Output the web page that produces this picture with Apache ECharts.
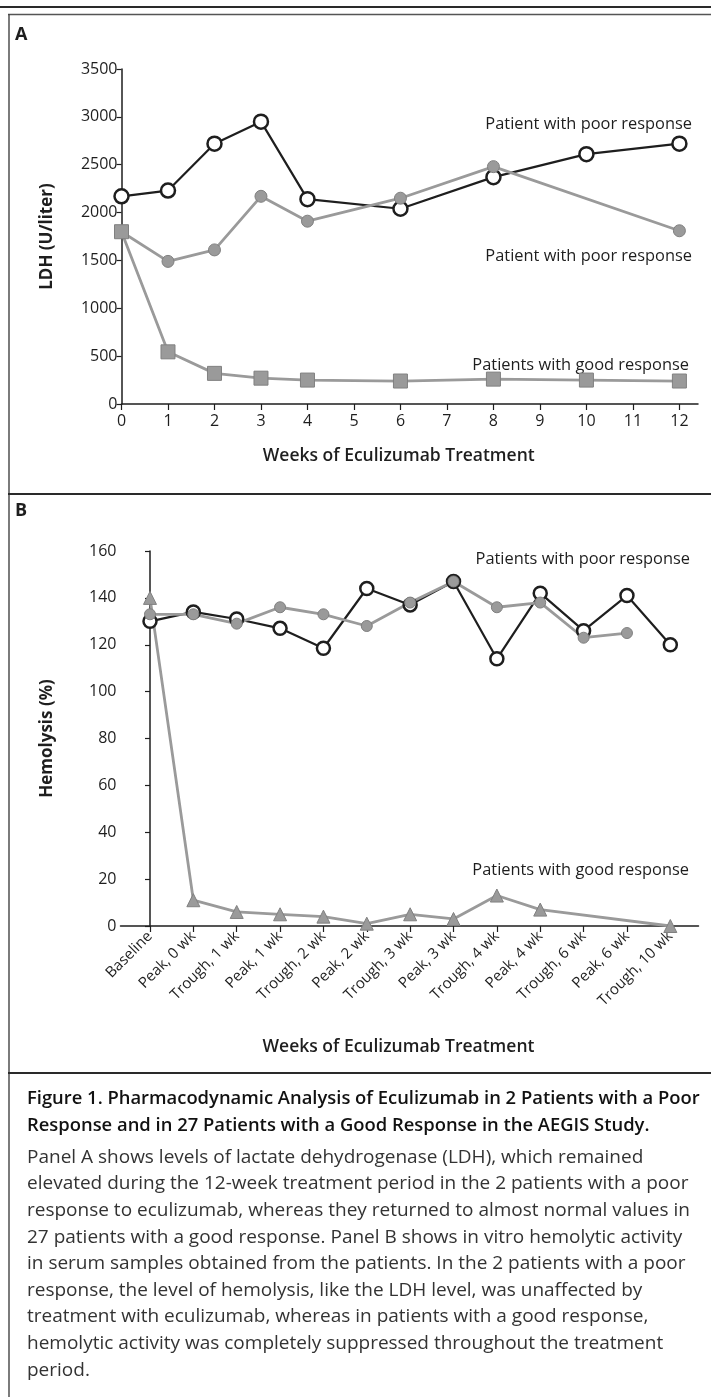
<!DOCTYPE html>
<html>
<head>
<meta charset="utf-8">
<script src="https://cdn.jsdelivr.net/npm/echarts@6/dist/echarts.min.js"></script>
<style>
  html, body { margin: 0; padding: 0; background: #fff; }
  #main { width: 711px; height: 1397px; }
</style>
</head>
<body>
<div id="main"></div>
<script>
// Panel A: LDH over weeks of treatment
const weekTicks = [0, 1, 2, 3, 4, 5, 6, 7, 8, 9, 10, 11, 12]
const weeksOpen = [0, 1, 2, 3, 4, 6, 8, 10, 12]
const ldhPoorOpen = [2170, 2230, 2720, 2950, 2140, 2040, 2370, 2610, 2720]
const weeksFilled = [0, 1, 2, 3, 4, 6, 8, 12]
const ldhPoorFilled = [1800, 1490, 1610, 2170, 1910, 2150, 2480, 1810]
const weeksGood = [0, 1, 2, 3, 4, 6, 8, 10, 12]
const ldhGood = [1800, 545, 320, 270, 250, 240, 260, 250, 240]

// Panel B: hemolysis at sampling points
const timepoints = ['Baseline', 'Peak, 0 wk', 'Trough, 1 wk', 'Peak, 1 wk', 'Trough, 2 wk', 'Peak, 2 wk',
  'Trough, 3 wk', 'Peak, 3 wk', 'Trough, 4 wk', 'Peak, 4 wk', 'Trough, 6 wk', 'Peak, 6 wk', 'Trough, 10 wk']
const hemoPoorOpen = [130, 134, 131, 127, 118.5, 144, 137, 147, 114, 142, 126, 141, 120]
const hemoPoorFilled = [133, 133, 129, 136, 133, 128, 138, 147, 136, 138, 123, 125, null]
const hemoGood = [140, 11, 6, 5, 4, 1, 5, 3, 13, 7, null, null, 0]

const FONT = '"Open Sans", "Noto Sans", sans-serif'
const NUM_FONT = '"Liberation Sans Narrow", "Open Sans", sans-serif'
const INK = '#1e1e1e'
const GREY = '#9a9a9a'

const pair = (xs, ys) => xs.map((x, i) => [x, ys[i]])
const idx = timepoints.map((_, i) => i)

const axisLine = { show: true, lineStyle: { color: INK, width: 1.5 } }
const axisTick = (len) => ({ show: true, length: len, lineStyle: { color: INK, width: 1.2 } })
const numLabel = { color: INK, fontFamily: NUM_FONT, fontSize: 16, formatter: (v) => String(v) }

const openCircle = (data, xi, size) => ({
  type: 'line', xAxisIndex: xi, yAxisIndex: xi, data,
  symbol: 'circle', symbolSize: size, connectNulls: true,
  lineStyle: { color: INK, width: 2.2 },
  itemStyle: { color: '#fff', borderColor: INK, borderWidth: 2.5 }
})
const greySeries = (data, xi, symbol, size) => ({
  type: 'line', xAxisIndex: xi, yAxisIndex: xi, data,
  symbol, symbolSize: size, connectNulls: true,
  lineStyle: { color: GREY, width: 2.8 },
  itemStyle: { color: GREY, borderColor: '#808080', borderWidth: 1 }
})

const label = (text, right, cy) => ({
  type: 'text', right: 711 - right, top: cy - 11,
  style: { text, fill: INK, font: '16.4px ' + FONT, textVerticalAlign: 'top' }
})
const hline = (x1, y, w, color) => ({
  type: 'line', shape: { x1, y1: y, x2: 711, y2: y }, style: { stroke: color, lineWidth: w }
})

const caption1 = 'Figure 1. Pharmacodynamic Analysis of Eculizumab in 2 Patients with a Poor\n' +
  'Response and in 27 Patients with a Good Response in the AEGIS Study.'
const caption2 = [
  'Panel A shows levels of lactate dehydrogenase (LDH), which remained',
  'elevated during the 12-week treatment period in the 2 patients with a poor',
  'response to eculizumab, whereas they returned to almost normal values in',
  '27 patients with a good response. Panel B shows in vitro hemolytic activity',
  'in serum samples obtained from the patients. In the 2 patients with a poor',
  'response, the level of hemolysis, like the LDH level, was unaffected by',
  'treatment with eculizumab, whereas in patients with a good response,',
  'hemolytic activity was completely suppressed throughout the treatment',
  'period.'
].join('\n')

const axisName = { color: INK, fontFamily: FONT, fontSize: 17.5, fontWeight: 600 }

const chart = echarts.init(document.getElementById('main'))

chart.setOption({
  animation: false,
  backgroundColor: '#fff',
  grid: [
    { left: 121.5, top: 69, width: 576.5, height: 335 },
    { left: 120.5, top: 551, width: 578, height: 375 }
  ],
  xAxis: [
    {
      type: 'value', gridIndex: 0, min: 0, max: 12.4,
      axisLine, axisTick: { ...axisTick(6), customValues: weekTicks },
      axisLabel: { ...numLabel, margin: 9, customValues: weekTicks },
      splitLine: { show: false },
      name: 'Weeks of Eculizumab Treatment', nameLocation: 'middle', nameGap: 43,
      nameTextStyle: { ...axisName, padding: [0, 22, 0, 0] }
    },
    {
      type: 'value', gridIndex: 1, min: -0.68, max: 12.65,
      axisLine, axisTick: { ...axisTick(6), customValues: idx },
      axisLabel: {
        color: INK, fontFamily: FONT, fontSize: 15, rotate: 45, margin: 8,
        customValues: idx, formatter: (v) => timepoints[Math.round(v)] || ''
      },
      splitLine: { show: false },
      name: 'Weeks of Eculizumab Treatment', nameLocation: 'middle', nameGap: 112,
      nameTextStyle: { ...axisName, padding: [0, 22, 0, 0] }
    }
  ],
  yAxis: [
    {
      type: 'value', gridIndex: 0, min: 0, max: 3500, interval: 500,
      axisLine, axisTick: axisTick(5),
      axisLabel: { ...numLabel, margin: 4 },
      splitLine: { show: false },
      name: 'LDH (U/liter)', nameLocation: 'middle', nameRotate: 90, nameGap: 66,
      nameTextStyle: { ...axisName, fontSize: 17, fontWeight: 'bold' }
    },
    {
      type: 'value', gridIndex: 1, min: 0, max: 160, interval: 20,
      axisLine, axisTick: axisTick(5),
      axisLabel: { ...numLabel, margin: 4 },
      splitLine: { show: false },
      name: 'Hemolysis (%)', nameLocation: 'middle', nameRotate: 90, nameGap: 65,
      nameTextStyle: { ...axisName, fontSize: 17, fontWeight: 'bold' }
    }
  ],
  series: [
    openCircle(pair(weeksOpen, ldhPoorOpen), 0, 14),
    greySeries(pair(weeksFilled, ldhPoorFilled), 0, 'circle', 12),
    greySeries(pair(weeksGood, ldhGood), 0, 'rect', 14),
    openCircle(pair(idx, hemoPoorOpen), 1, 13),
    greySeries(pair(idx, hemoPoorFilled), 1, 'circle', 11),
    greySeries(pair(idx, hemoGood), 1, 'triangle', 13)
  ],
  graphic: [
    // frame
    hline(0, 7, 2.2, '#2a2a2a'),
    hline(8, 14.5, 1.3, '#555'),
    { type: 'line', shape: { x1: 9, y1: 14, x2: 9, y2: 1397 }, style: { stroke: '#444', lineWidth: 1.4 } },
    hline(8, 494, 2, '#2a2a2a'),
    hline(8, 1073, 2, '#2a2a2a'),
    // panel letters
    { type: 'text', left: 15, top: 26, style: { text: 'A', fill: INK, font: 'bold 18px ' + FONT } },
    { type: 'text', left: 15, top: 502, style: { text: 'B', fill: INK, font: 'bold 18px ' + FONT } },
    // series annotations
    label('Patient with poor response', 692, 127),
    label('Patient with poor response', 692, 259),
    label('Patients with good response', 689, 368),
    label('Patients with poor response', 690, 562),
    label('Patients with good response', 689, 873),
    // caption
    {
      type: 'text', left: 27, top: 1085,
      style: { text: caption1, fill: '#111', font: '600 18.4px ' + FONT, lineHeight: 27 }
    },
    {
      type: 'text', left: 27, top: 1144,
      style: { text: caption2, fill: '#333', font: '19px ' + FONT, lineHeight: 26.6 }
    }
  ]
})
</script>
</body>
</html>
